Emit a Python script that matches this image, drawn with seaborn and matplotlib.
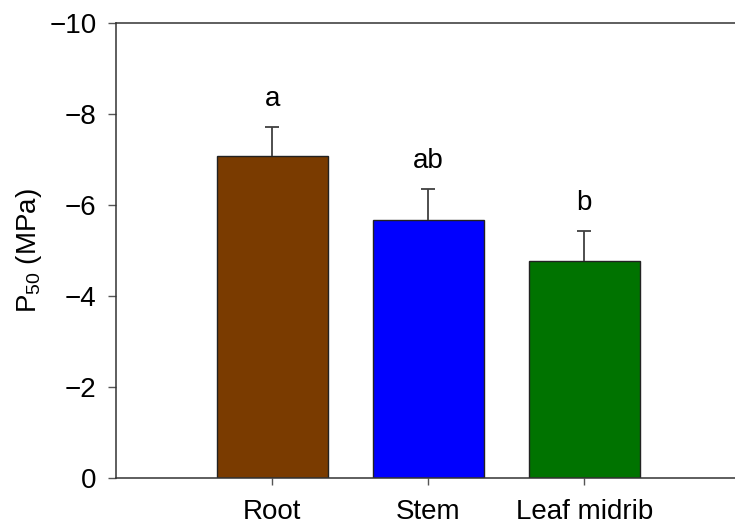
import matplotlib
matplotlib.use("Agg")
import matplotlib.pyplot as plt
import seaborn as sns

TISSUES = ['Root', 'Stem', 'Leaf midrib']
P50 = [-7.08, -5.66, -4.76]
SE = [0.64, 0.70, 0.67]
LETTERS = ['a', 'ab', 'b']
COLORS = {'Root': '#7a3b00', 'Stem': '#0000ff', 'Leaf midrib': '#007300'}

sns.set_style('white')
plt.rcParams['font.family'] = ['Liberation Sans', 'DejaVu Sans']
plt.rcParams['mathtext.default'] = 'regular'
plt.rcParams['text.color'] = 'black'
plt.rcParams['axes.labelcolor'] = 'black'
plt.rcParams['xtick.color'] = 'black'
plt.rcParams['ytick.color'] = 'black'

fig = plt.figure(figsize=(7.35, 5.28), dpi=100)
ax = fig.add_axes([0.1578, 0.0947, 0.87, 0.862])

sns.barplot(x=TISSUES, y=P50, hue=TISSUES, palette=COLORS, legend=False,
            width=0.71, saturation=1, edgecolor='#222222', linewidth=1.0,
            ax=ax)

# one-sided error bars (towards more negative values)
_, caps, _ = ax.errorbar(range(len(TISSUES)), P50,
                         yerr=[SE, [0] * len(SE)],
                         fmt='none', ecolor='#404040', elinewidth=1.3,
                         capsize=5, capthick=1.3, zorder=3)
for cap in caps:
    if list(cap.get_ydata()) == list(P50):
        cap.set_visible(False)

for i, (v, e, lab) in enumerate(zip(P50, SE, LETTERS)):
    ax.text(i, v - e - 0.46, lab, ha='center', va='baseline', fontsize=20)

ax.set_xlim(-1.0, 3.096)
ax.set_ylim(0, -10)
ax.set_yticks([0, -2, -4, -6, -8, -10])

for side in ['left', 'bottom', 'top']:
    ax.spines[side].set_color('#333333')
    ax.spines[side].set_linewidth(1.1)
ax.spines['right'].set_visible(False)

ax.tick_params(axis='y', direction='out', length=6, width=1.0,
               color='#555555', pad=8, labelsize=20, left=True)
ax.tick_params(axis='x', direction='out', length=5, width=1.0,
               color='#555555', pad=10, labelsize=20, bottom=True)

ax.set_ylabel('P$_{50}$ (MPa)', fontsize=20, labelpad=4)
ax.set_xlabel('')

plt.savefig('out.png', dpi=100)
